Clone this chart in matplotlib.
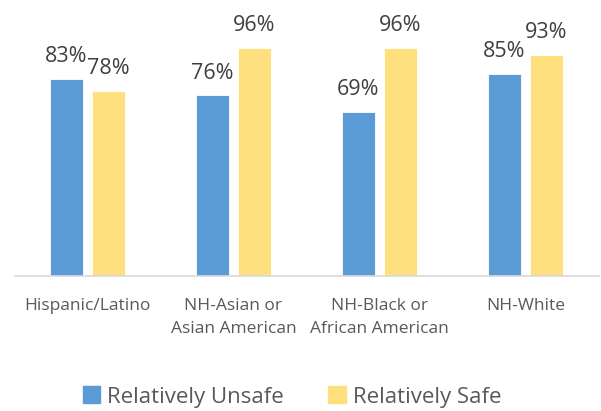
import numpy as np
import matplotlib.pyplot as plt
from matplotlib.patches import Patch

# data
groups = ["Hispanic/Latino", "NH-Asian or\nAsian American",
          "NH-Black or\nAfrican American", "NH-White"]
unsafe = [83, 76, 69, 85]
safe = [78, 96, 96, 93]

BLUE = "#5B9BD5"
GOLD = "#FFE07F"
TEXT = "#404040"

plt.rcParams["font.family"] = ["Open Sans", "DejaVu Sans"]

fig = plt.figure(figsize=(6.01, 4.11), dpi=100)
# axes: x 14.5..598.5 px, y baseline 276, 100% at 38.5
W, H = 601, 411
ax = fig.add_axes([14.5 / W, (H - 276) / H, 584 / W, 237.5 / H])

x = np.arange(len(groups))
bw = 0.226
off = 0.144

b1 = ax.bar(x - off, unsafe, bw, color=BLUE, edgecolor="white", linewidth=0.6)
b2 = ax.bar(x + off, safe, bw, color=GOLD, edgecolor="white", linewidth=0.6)

for bars, vals in ((b1, unsafe), (b2, safe)):
    for rect, v in zip(bars, vals):
        ax.annotate(f"{v}%", (rect.get_x() + rect.get_width() / 2, v),
                    xytext=(0, 17), textcoords="offset pixels",
                    ha="center", va="baseline", fontsize=15.5, color=TEXT,
                    annotation_clip=False)

ax.set_xlim(-0.5, 3.5)
ax.set_ylim(0, 100)
ax.set_yticks([])
ax.set_xticks(x)
ax.set_xticklabels(groups, fontsize=12.5, color="#595959", linespacing=1.6)
ax.tick_params(axis="x", length=0, pad=16)
for s in ["top", "right", "left"]:
    ax.spines[s].set_visible(False)
ax.spines["bottom"].set_color("#D9D9D9")
ax.spines["bottom"].set_linewidth(1.2)

handles = [Patch(color=BLUE, label="Relatively Unsafe"),
           Patch(color=GOLD, label="Relatively Safe")]
fig.legend(handles=handles, loc="center", bbox_to_anchor=(292 / W, 1 - 397 / H),
           ncol=2, frameon=False, fontsize=16, labelcolor="#595959",
           handlelength=0.8, handleheight=0.8, handletextpad=0.3,
           columnspacing=2.0)

fig.savefig("out.png", dpi=100)
